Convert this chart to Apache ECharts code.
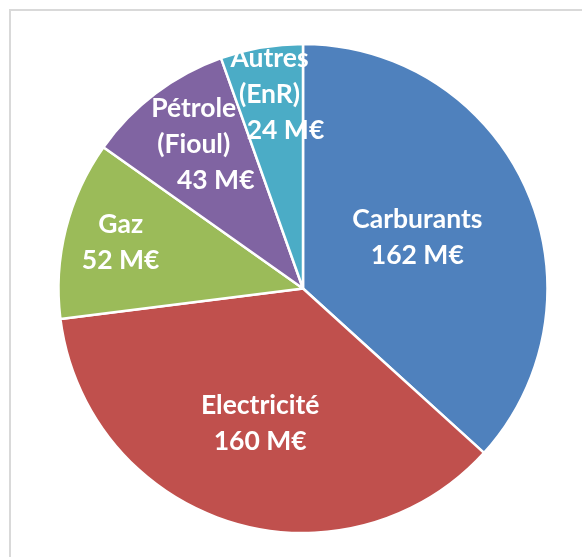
<!DOCTYPE html>
<html>
<head>
<meta charset="utf-8">
<script src="https://cdn.jsdelivr.net/npm/echarts@6/dist/echarts.min.js"></script>
<style>
  html, body { margin:0; padding:0; background:#fff; }
  #chart { width:582px; height:557px; }
</style>
</head>
<body>
<div id="chart"></div>
<script>
// données (M€)
var categories = ['Carburants', 'Electricité', 'Gaz', 'Pétrole\n(Fioul)', 'Autres\n(EnR)'];
var values = [162, 160, 52, 43, 24];
var unit = ' M€';

var colors = ['#4F81BD', '#C0504D', '#9BBB59', '#8064A2', '#4BACC6'];
var pieCenter = [303, 288.5];
// distance du libellé au centre, par part
var labelR = [125, 142, 188, 181, 197];
// décalage de la dernière ligne (valeur) comme dans l'original
var valuePad = [0, 0, 0, 44, 32];
var fs = 26.5;

var total = values.reduce(function(a, b){ return a + b; }, 0);

var myChart = echarts.init(document.getElementById('chart'));

var data = [];
for (var i = 0; i < categories.length; i++) {
  data.push({ name: categories[i], value: values[i], itemStyle: { color: colors[i] } });
}

var rich = { n: { color: '#fff', fontFamily: 'Lato', fontWeight: 'bold', fontSize: fs, lineHeight: 36 } };
for (var j = 0; j < valuePad.length; j++) {
  rich['v' + j] = { color: '#fff', fontFamily: 'Lato', fontWeight: 'bold', fontSize: fs, lineHeight: 36, padding: [0, 0, 0, valuePad[j]] };
}

var option = {
  animation: false,
  graphic: [{
    type: 'rect',
    shape: { x: 10, y: 10, width: 620, height: 600 },
    style: { fill: 'none', stroke: '#d9d9d9', lineWidth: 2 },
    silent: true
  }],
  series: [{
    type: 'pie',
    center: pieCenter,
    radius: 244.5,
    startAngle: 90,
    clockwise: true,
    data: data,
    itemStyle: { borderColor: '#fff', borderWidth: 2.5 },
    labelLine: { show: false },
    label: {
      show: true,
      position: 'inside',
      color: '#fff',
      fontFamily: 'Lato',
      fontWeight: 'bold',
      fontSize: fs,
      lineHeight: 36,
      formatter: function (p) {
        var lines = p.name.split('\n').map(function(s){ return '{n|' + s + '}'; });
        lines.push('{v' + p.dataIndex + '|' + p.value + unit + '}');
        return lines.join('\n');
      },
      rich: rich
    },
    labelLayout: function (p) {
      var i = p.dataIndex;
      var before = 0;
      for (var k = 0; k < i; k++) before += values[k];
      var mid = (before + values[i] / 2) / total * Math.PI * 2;
      return {
        x: pieCenter[0] + labelR[i] * Math.sin(mid),
        y: pieCenter[1] - labelR[i] * Math.cos(mid),
        align: 'center',
        verticalAlign: 'middle'
      };
    },
    emphasis: { disabled: true }
  }]
};

myChart.setOption(option);
</script>
</body>
</html>
